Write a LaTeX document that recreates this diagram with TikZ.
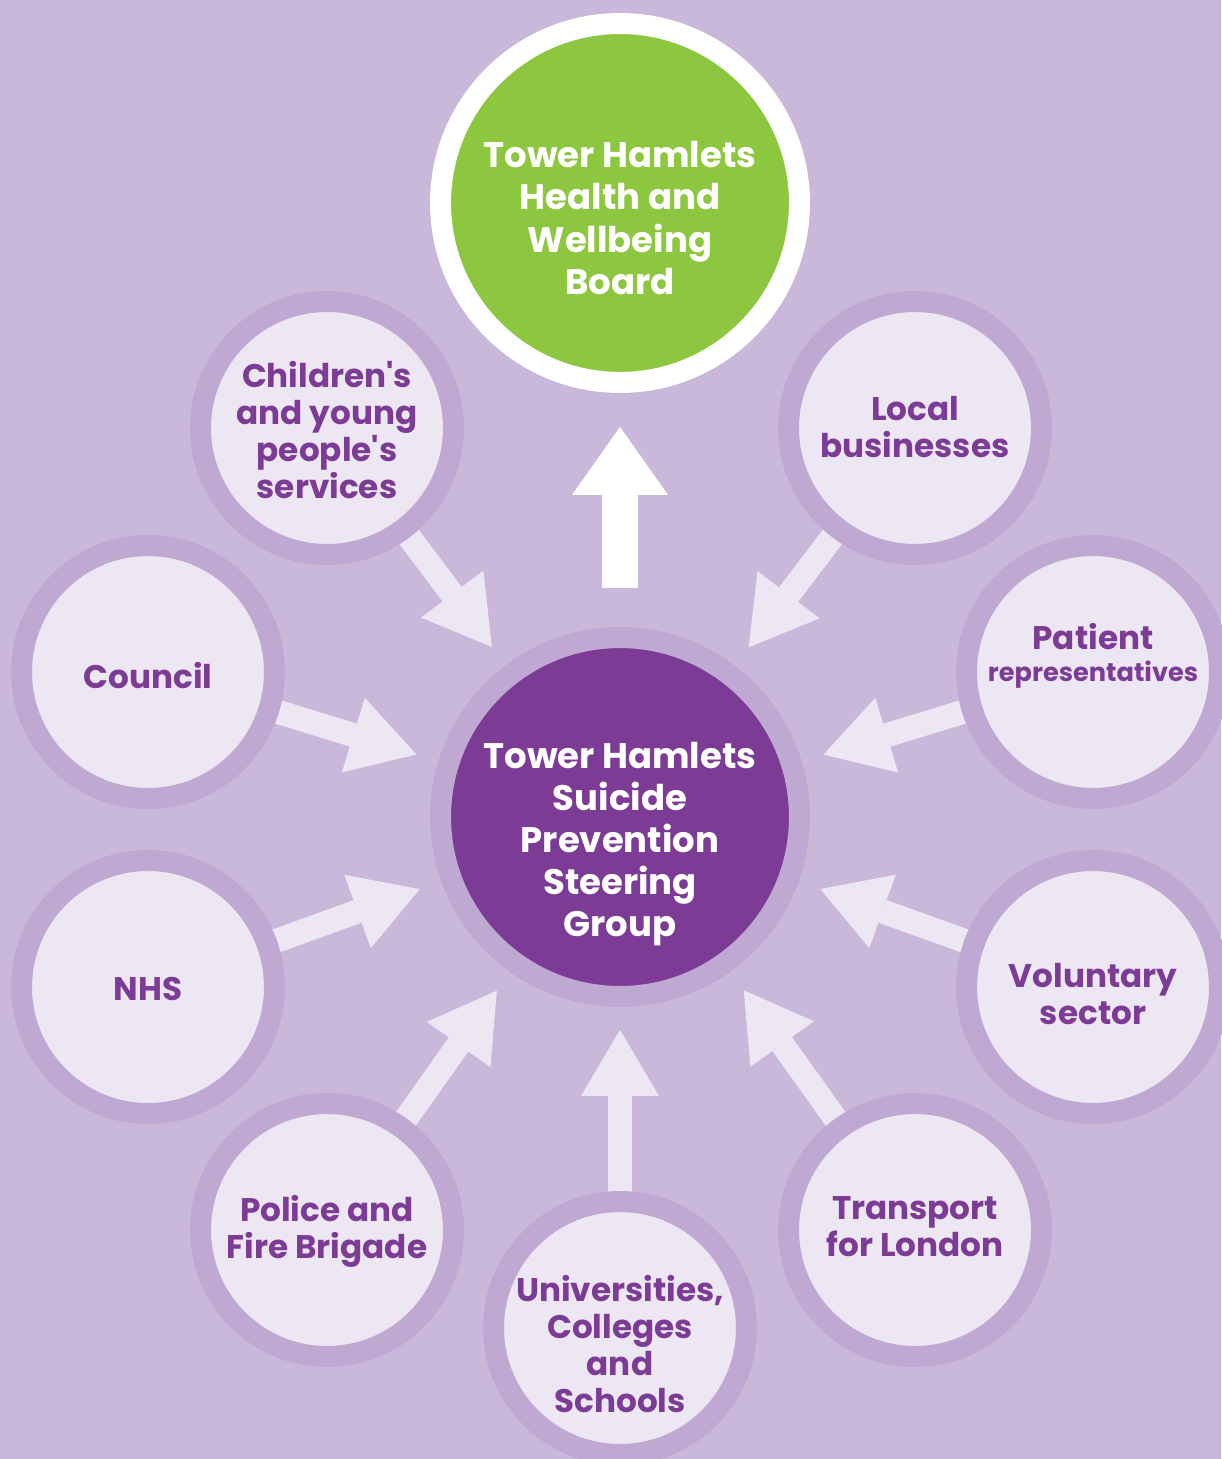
\documentclass[tikz,border=0pt]{standalone}
\usepackage{fontspec}
\setmainfont{Poppins}
\usetikzlibrary{arrows.meta}
\definecolor{lilac}{HTML}{CAB8DB}
\definecolor{ringc}{HTML}{BFA8D1}
\definecolor{pale}{HTML}{EDE7F3}
\definecolor{plum}{HTML}{7C3B95}
\definecolor{leaf}{HTML}{8DC63F}
\pgfdeclarelayer{back}
\pgfsetlayers{back,main}
\tikzset{
  org/.style={circle, fill=pale, draw=ringc, line width=0.42cm, minimum size=5.06cm, inner sep=0pt, outer sep=0.21cm},
  orgtxt/.style={text=plum, align=center, font=\fontsize{18.6}{21}\selectfont\bfseries},
  hubc/.style={circle, fill=plum, draw=ringc, line width=0.42cm, minimum size=7.18cm, inner sep=0pt, outer sep=0.21cm},
  boardc/.style={hubc, fill=leaf, draw=white},
  bigtxt/.style={text=white, align=center, font=\fontsize{20.2}{24}\selectfont\bfseries},
  feed/.style={pale, line width=0.48cm, -{Triangle[length=1.32cm, width=1.56cm, line width=0pt]}, shorten >=0.46cm, shorten <=-0.2cm},
  report/.style={white, line width=0.72cm, -{Triangle[length=1.36cm, width=1.92cm, line width=0pt]}, shorten <=0.78cm, shorten >=0.68cm},
}
\begin{document}
\begin{tikzpicture}[x=0.02cm, y=-0.02cm]
  \useasboundingbox (0,0) rectangle (1221,1459);
  \begin{pgfonlayer}{back}
    \fill[lilac] (0,0) rectangle (1221,1459);
  \end{pgfonlayer}

  % steering group and the board it reports to
  \node[hubc] (hub) at (620,817) {};
  \node[boardc] (board) at (620,203) {};

  % partners round the steering group
  \node[org] (children) at (327,428) {};
  \node[org] (local) at (915,428) {};
  \node[org] (council) at (148,672) {};
  \node[org] (patient) at (1093,672) {};
  \node[org] (nhs) at (148,987) {};
  \node[org] (voluntary) at (1093,987) {};
  \node[org] (police) at (327,1230) {};
  \node[org] (transport) at (915,1230) {};
  \node[org] (unis) at (620,1328) {};

  % labels
  \node[bigtxt] (boardT) at (620,218) {Tower Hamlets\\Health and\\Wellbeing\\Board};
  \node[bigtxt] (hubT) at (620,844) {Tower Hamlets\\Suicide\\Prevention\\Steering\\Group};
  \node[orgtxt] (childrenT) at (327,430) {Children\textquotesingle s\\and young\\people\textquotesingle s\\services};
  \node[orgtxt] (localT) at (915,427) {Local\\businesses};
  \node[orgtxt] (councilT) at (148,676) {Council};
  \node[orgtxt] (patientT) at (1093,656) {Patient\\[-3pt]{\fontsize{14.6}{17}\selectfont representatives}};
  \node[orgtxt] (nhsT) at (148,989) {NHS};
  \node[orgtxt] (voluntaryT) at (1093,994) {Voluntary\\sector};
  \node[orgtxt] (policeT) at (327,1231) {Police and\\Fire Brigade};
  \node[orgtxt] (transportT) at (915,1227) {Transport\\for London};
  \node[orgtxt] (unisT) at (620,1344) {Universities,\\Colleges\\and\\Schools};

  % arrows, kept under the rings
  \begin{pgfonlayer}{back}
    \foreach \o in {children,local,council,patient,nhs,voluntary,police,transport,unis}
      \draw[feed] (\o) -- (hub);
    \draw[report] (hub) -- (board);
  \end{pgfonlayer}
\end{tikzpicture}
\end{document}
